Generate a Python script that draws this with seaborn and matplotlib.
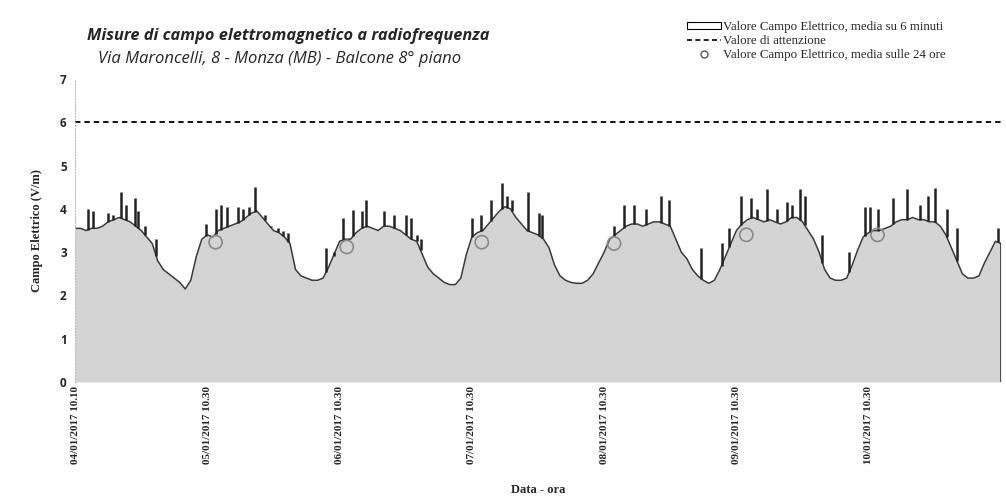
import numpy as np
import pandas as pd
import seaborn as sns
import matplotlib.pyplot as plt
from matplotlib.patches import Patch
from matplotlib.lines import Line2D

# hourly envelope of the 6-minute average (V/m), hour 0 = 04/01/2017 10.10
field_hourly = [
    3.55, 3.55, 3.50, 3.55, 3.55, 3.60, 3.70, 3.75, 3.80, 3.75, 3.70, 3.60,
    3.50, 3.35, 3.20, 2.80, 2.60, 2.50, 2.40, 2.30, 2.15, 2.35, 2.90, 3.30,
    3.40, 3.35, 3.50, 3.55, 3.60, 3.65, 3.70, 3.80, 3.90, 3.95, 3.80, 3.65,
    3.50, 3.45, 3.35, 3.20, 2.60, 2.45, 2.40, 2.35, 2.35, 2.40, 2.65, 2.95,
    3.25, 3.30, 3.30, 3.45, 3.55, 3.60, 3.55, 3.50, 3.60, 3.60, 3.55, 3.50,
    3.40, 3.30, 3.25, 2.95, 2.65, 2.50, 2.40, 2.30, 2.25, 2.25, 2.40, 2.95,
    3.35, 3.45, 3.50, 3.65, 3.80, 3.95, 4.05, 4.00, 3.80, 3.65, 3.50, 3.45,
    3.40, 3.30, 3.10, 2.70, 2.45, 2.35, 2.30, 2.28, 2.28, 2.35, 2.50, 2.75,
    3.00, 3.30, 3.40, 3.50, 3.60, 3.65, 3.65, 3.60, 3.65, 3.70, 3.70, 3.65,
    3.60, 3.30, 3.00, 2.85, 2.60, 2.45, 2.35, 2.28, 2.35, 2.60, 2.90, 3.20,
    3.50, 3.65, 3.75, 3.80, 3.75, 3.70, 3.75, 3.70, 3.65, 3.70, 3.80, 3.80,
    3.70, 3.50, 3.30, 3.00, 2.60, 2.40, 2.35, 2.35, 2.40, 2.70, 3.05, 3.35,
    3.45, 3.50, 3.50, 3.55, 3.60, 3.70, 3.75, 3.75, 3.80, 3.75, 3.75, 3.70,
    3.70, 3.60, 3.40, 3.10, 2.80, 2.50, 2.40, 2.40, 2.45, 2.75, 3.00, 3.25,
    3.20,
]

# short peaks in the 6-minute series: hour, value (V/m)
spike_hours = [
    2.4, 3.3, 6.0, 6.9, 8.4, 9.3, 10.9, 11.5, 12.7, 14.7,
    23.8, 25.5, 26.4, 27.5, 29.6, 30.5, 31.5, 32.7, 34.4, 35.5, 36.9, 37.8, 38.7, 45.6,
    46.9, 48.7, 50.5, 52.0, 52.7, 56.0, 57.8, 60.0, 60.9, 62.0, 62.7,
    72.0, 73.6, 75.5, 77.5, 78.4, 79.3, 82.2, 84.2, 84.7,
    97.8, 99.6, 101.5, 103.6, 106.4, 107.8, 113.6,
    117.3, 118.7, 120.9, 122.7, 123.8, 125.5, 127.3, 129.1, 130.0, 131.5, 132.4, 135.6, 140.5,
    143.3, 144.2, 145.6, 148.4, 150.9, 153.3, 154.7, 156.0, 158.2, 160.0, 167.5,
]
spike_values = [
    4.00, 3.95, 3.90, 3.85, 4.40, 4.10, 4.25, 3.95, 3.60, 3.30,
    3.65, 4.00, 4.10, 4.05, 4.05, 4.00, 4.05, 4.50, 3.85, 3.60, 3.55, 3.50, 3.45, 3.10,
    3.00, 3.80, 3.97, 3.95, 4.20, 3.95, 3.85, 3.85, 3.80, 3.40, 3.30,
    3.80, 3.85, 4.20, 4.60, 4.30, 4.20, 4.40, 3.90, 3.85,
    3.60, 4.10, 4.10, 4.00, 4.30, 4.20, 3.10,
    3.20, 3.55, 4.30, 4.25, 4.00, 4.45, 4.00, 4.15, 4.10, 4.45, 4.30, 3.40, 3.00,
    4.05, 4.05, 4.00, 4.25, 4.47, 4.10, 4.30, 4.48, 4.00, 3.55, 3.55,
]

# 24-hour averages
daily_hours = [25.5, 49.3, 73.8, 97.8, 121.8, 145.6]
daily_values = [3.23, 3.12, 3.23, 3.20, 3.40, 3.40]

attention_value = 6

tick_hours = [0, 24, 48, 72, 96, 120, 144]
tick_labels = [
    "04/01/2017 10.10", "05/01/2017 10.30", "06/01/2017 10.30", "07/01/2017 10.30",
    "08/01/2017 10.30", "09/01/2017 10.30", "10/01/2017 10.30",
]

df = pd.DataFrame({"ora": np.arange(len(field_hourly)), "campo": field_hourly})
spikes = pd.DataFrame({"ora": spike_hours, "campo": spike_values})
daily = pd.DataFrame({"ora": daily_hours, "campo": daily_values})

sns.set_style("white")
plt.rcParams["font.family"] = ["Open Sans", "DejaVu Sans"]

fig = plt.figure(figsize=(10.06, 5.0), dpi=100)
ax = fig.add_axes([0.0746, 0.236, 0.9204, 0.606])

ax.fill_between(df["ora"], 0, df["campo"], color="#d4d4d4", linewidth=0)
sns.lineplot(data=df, x="ora", y="campo", ax=ax, color="#3a3a3a", linewidth=1.1)
base = np.interp(spikes["ora"], df["ora"], df["campo"])
ax.vlines(spikes["ora"], base, spikes["campo"], color="#222222", linewidth=1.8)
ax.vlines(df["ora"].iloc[-1], 0, df["campo"].iloc[-1], color="#222222", linewidth=1.8)
sns.scatterplot(data=daily, x="ora", y="campo", ax=ax, marker="o", s=90,
                facecolor="none", edgecolor="#8a8a8a", linewidth=1.2, zorder=5)
ax.axhline(attention_value, color="black", linestyle=(0, (3, 2.2)), linewidth=1.3)

ax.set_xlim(0, df["ora"].iloc[-1])
ax.set_ylim(0, 7)
ax.set_yticks(range(0, 8))
ax.set_xticks(tick_hours)
ax.set_xticklabels(tick_labels, rotation=90, fontsize=8, fontweight="bold",
                   family="Liberation Serif", va="top")
for lab in ax.get_yticklabels():
    lab.set_fontsize(8.5)
    lab.set_fontweight("bold")
ax.tick_params(axis="both", length=0, pad=6)
ax.tick_params(axis="x", pad=3)

for s in ["top", "right", "bottom"]:
    ax.spines[s].set_visible(False)
ax.spines["left"].set_color("#bbbbbb")
ax.spines["left"].set_linestyle(":")

ax.set_xlabel("Data - ora", fontsize=9, fontweight="bold", family="Liberation Serif",
              labelpad=14)
ax.set_ylabel("Campo Elettrico (V/m)", fontsize=9, fontweight="bold",
              family="Liberation Serif", labelpad=12)

fig.text(0.287, 0.928, "Misure di campo elettromagnetico a radiofrequenza",
         ha="center", va="center", fontsize=11.8, fontweight="bold", style="italic")
fig.text(0.278, 0.882, "Via Maroncelli, 8 - Monza (MB) - Balcone 8° piano",
         ha="center", va="center", fontsize=12, style="italic")

handles = [
    Patch(facecolor="white", edgecolor="black", linewidth=0.8),
    Line2D([0], [0], color="black", linestyle=(0, (3, 2)), linewidth=1.2),
    Line2D([0], [0], marker="o", linestyle="none", markerfacecolor="none",
           markeredgecolor="#555555", markersize=5),
]
labels = [
    "Valore Campo Elettrico, media su 6 minuti",
    "Valore di attenzione",
    "Valore Campo Elettrico, media sulle 24 ore",
]
fig.legend(handles, labels, loc="upper left", bbox_to_anchor=(0.678, 0.968),
           frameon=False, prop={"family": "Liberation Serif", "size": 9.3},
           handlelength=2.6, handleheight=0.4, labelspacing=0.15, handletextpad=0.2,
           borderaxespad=0)

fig.savefig("out.png", dpi=100)
